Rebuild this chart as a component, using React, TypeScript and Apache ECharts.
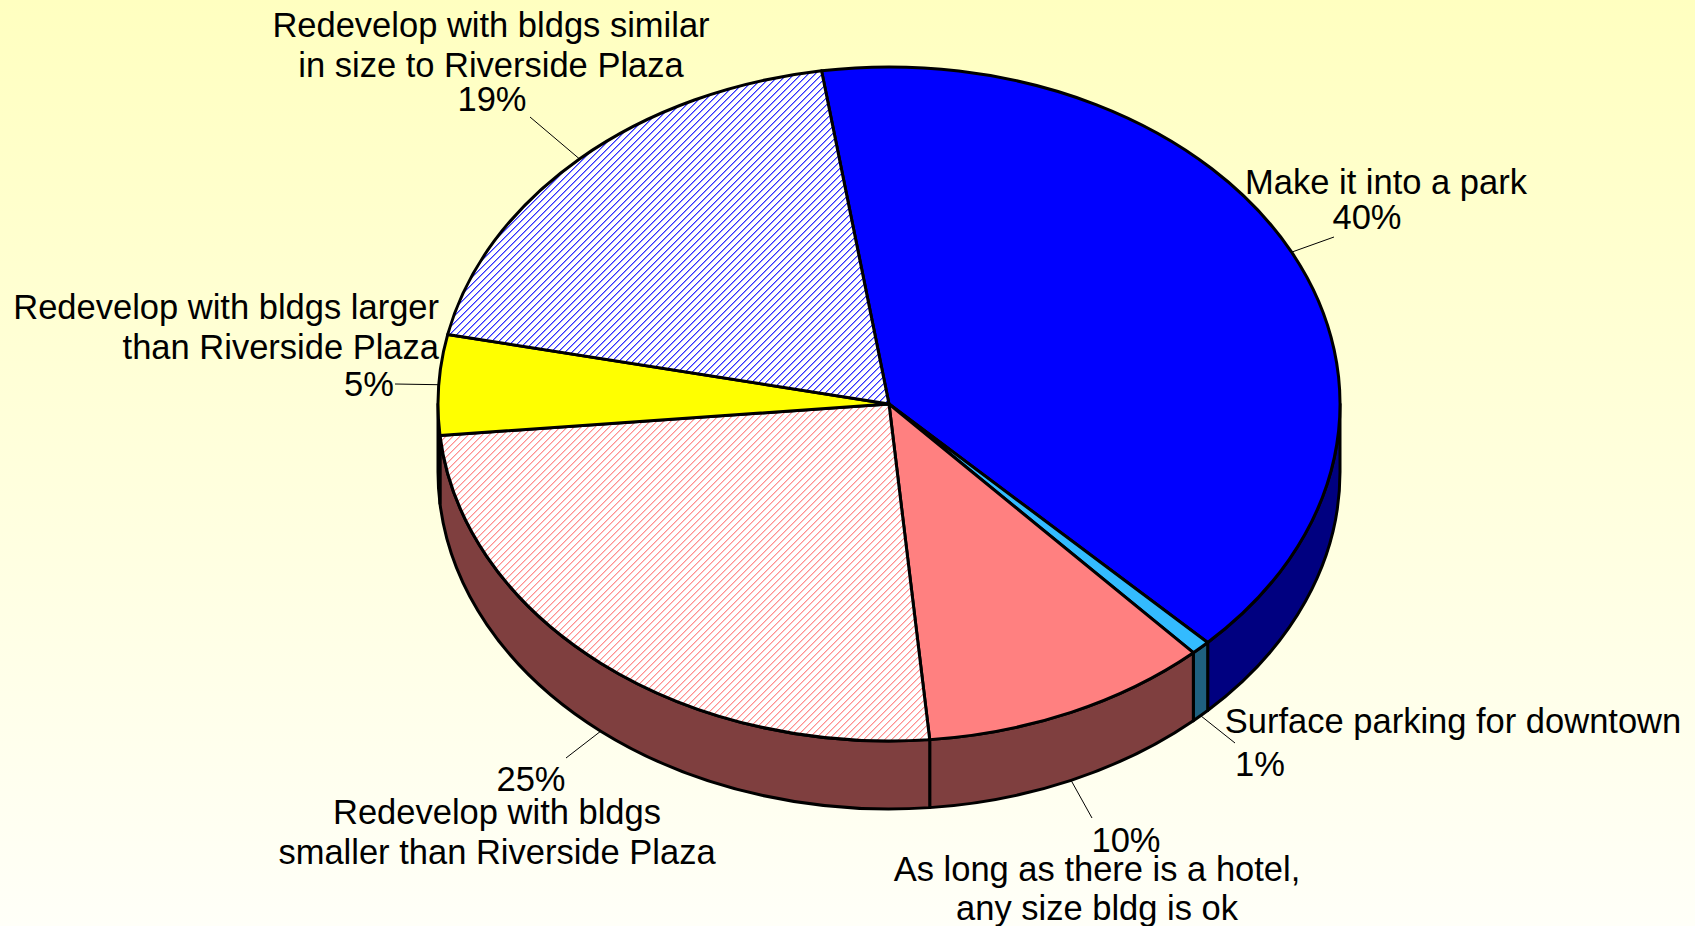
import React, { useEffect, useRef } from "react";
import * as echarts from "echarts";

const categories = [
  "Make it into a park",
  "Surface parking for downtown",
  "As long as there is a hotel, any size bldg is ok",
  "Redevelop with bldgs smaller than Riverside Plaza",
  "Redevelop with bldgs larger than Riverside Plaza",
  "Redevelop with bldgs similar in size to Riverside Plaza",
];
const values = [39.9, 0.7, 10.35, 24.95, 4.8, 19.3];
const percentLabels = ["40%", "1%", "10%", "25%", "5%", "19%"];
const topColors = ["#0000FF", "#33BBFF", "#FF8080", "hatchRed", "#FFFF00", "hatchBlue"];
const wallColors = ["#000080", "#1F6080", "#7F3F3F", "#7F3F3F", "#808000", "#000080"];

// [text, x, y, align] for each label line, per slice
const labelLines: [string, number, number, string][][] = [
  [["Make it into a park", 1386, 182, "center"], [percentLabels[0], 1367, 217, "center"]],
  [["Surface parking for downtown", 1453, 721, "center"], [percentLabels[1], 1260, 764, "center"]],
  [[percentLabels[2], 1126, 840, "center"], ["As long as there is a hotel,", 1097, 869, "center"], ["any size bldg is ok", 1097, 908, "center"]],
  [[percentLabels[3], 531, 779, "center"], ["Redevelop with bldgs", 497, 812, "center"], ["smaller than Riverside Plaza", 497, 852, "center"]],
  [["Redevelop with bldgs larger", 439, 307, "right"], ["than Riverside Plaza", 439, 347, "right"], [percentLabels[4], 369, 384, "center"]],
  [["Redevelop with bldgs similar", 491, 25, "center"], ["in size to Riverside Plaza", 491, 65, "center"], [percentLabels[5], 492, 99, "center"]],
];
const leaderEnds = [[1334, 237], [1235, 743], [1092, 818], [566, 758], [395, 384], [530, 117]];

const CX = 889;
const CY = 404;
const RX = 451;
const RY = 337;
const DEPTH = 68;
const START_DEG = -8.6;
const FONT = '"Liberation Sans", Arial, sans-serif';
const FONT_SIZE = 34.5;

const pt = (deg: number, dy = 0): [number, number] => {
  const t = (deg * Math.PI) / 180;
  return [CX + RX * Math.sin(t), CY - RY * Math.cos(t) + dy];
};

function hatch(color: string, soft: string) {
  const c = document.createElement("canvas");
  const p = 7;
  c.width = p;
  c.height = p;
  const g = c.getContext("2d")!;
  g.fillStyle = "#FFFFFF";
  g.fillRect(0, 0, p, p);
  for (let i = 0; i < p; i++) {
    g.fillStyle = soft;
    g.fillRect((i + 1) % p, p - 1 - i, 1, 1);
    g.fillStyle = color;
    g.fillRect(i, p - 1 - i, 1, 1);
  }
  return { image: c, repeat: "repeat" };
}

export default function App() {
  const ref = useRef<HTMLDivElement>(null);
  useEffect(() => {
    const chart = echarts.init(ref.current!, undefined, { renderer: "svg" });
    const total = values.reduce((a, b) => a + b, 0);
    const fills: Record<string, any> = {
      hatchRed: hatch("#FF9090", "#FFC8C8"),
      hatchBlue: hatch("#3030FF", "#9090FF"),
    };
    const sliceStart = (i: number) =>
      START_DEG + (values.slice(0, i).reduce((a, b) => a + b, 0) / total) * 360;

    chart.setOption({
      animation: false,
      backgroundColor: {
        type: "linear", x: 0, y: 0, x2: 0, y2: 1,
        colorStops: [{ offset: 0, color: "#FFFFC0" }, { offset: 1, color: "#FFFFF8" }],
      },
      series: [{
        type: "custom",
        coordinateSystem: "none",
        clip: false,
        silent: true,
        data: categories.map((name, i) => ({ name, value: values[i] })),
        renderItem: (params: any) => {
          const i = params.dataIndex;
          const a0 = sliceStart(i);
          const a1 = sliceStart(i + 1);
          const children: any[] = [];
          const stroke = { stroke: "#000000", lineWidth: 3, lineJoin: "round" };

          // side wall: only the front half (90..270 degrees) shows
          const w0 = Math.max(a0, 90);
          const w1 = Math.min(a1, 270);
          if (w1 > w0) {
            const [x0, y0] = pt(w0);
            const [x1, y1] = pt(w1);
            const [x2, y2] = pt(w1, DEPTH);
            const [x3, y3] = pt(w0, DEPTH);
            const large = w1 - w0 > 180 ? 1 : 0;
            children.push({
              type: "path",
              shape: {
                pathData: `M${x0} ${y0}A${RX} ${RY} 0 ${large} 1 ${x1} ${y1}L${x2} ${y2}A${RX} ${RY} 0 ${large} 0 ${x3} ${y3}Z`,
              },
              style: { fill: wallColors[i], ...stroke },
            });
          }

          // top face
          const [sx, sy] = pt(a0);
          const [ex, ey] = pt(a1);
          const large = a1 - a0 > 180 ? 1 : 0;
          const c = topColors[i];
          children.push({
            type: "path",
            shape: { pathData: `M${CX} ${CY}L${sx} ${sy}A${RX} ${RY} 0 ${large} 1 ${ex} ${ey}Z` },
            style: { fill: fills[c] || c, ...stroke },
          });

          // leader line from the rim at the slice's middle
          const mid = (a0 + a1) / 2;
          const [lx, ly] = pt(mid, mid > 90 && mid < 270 ? DEPTH : 0);
          const [tx, ty] = leaderEnds[i];
          children.push({
            type: "line",
            shape: { x1: lx, y1: ly, x2: tx, y2: ty },
            style: { stroke: "#000000", lineWidth: 1 },
          });

          // labels
          labelLines[i].forEach(([text, x, y, align]) => {
            children.push({
              type: "text",
              style: {
                text, x, y, align, verticalAlign: "middle",
                fill: "#000000", font: `${FONT_SIZE}px ${FONT}`,
              },
            });
          });
          return { type: "group", children };
        },
      }],
    });
    return () => chart.dispose();
  }, []);
  return <div ref={ref} style={{ position: "fixed", left: 0, top: 0, width: 1695, height: 926 }} />;
}
